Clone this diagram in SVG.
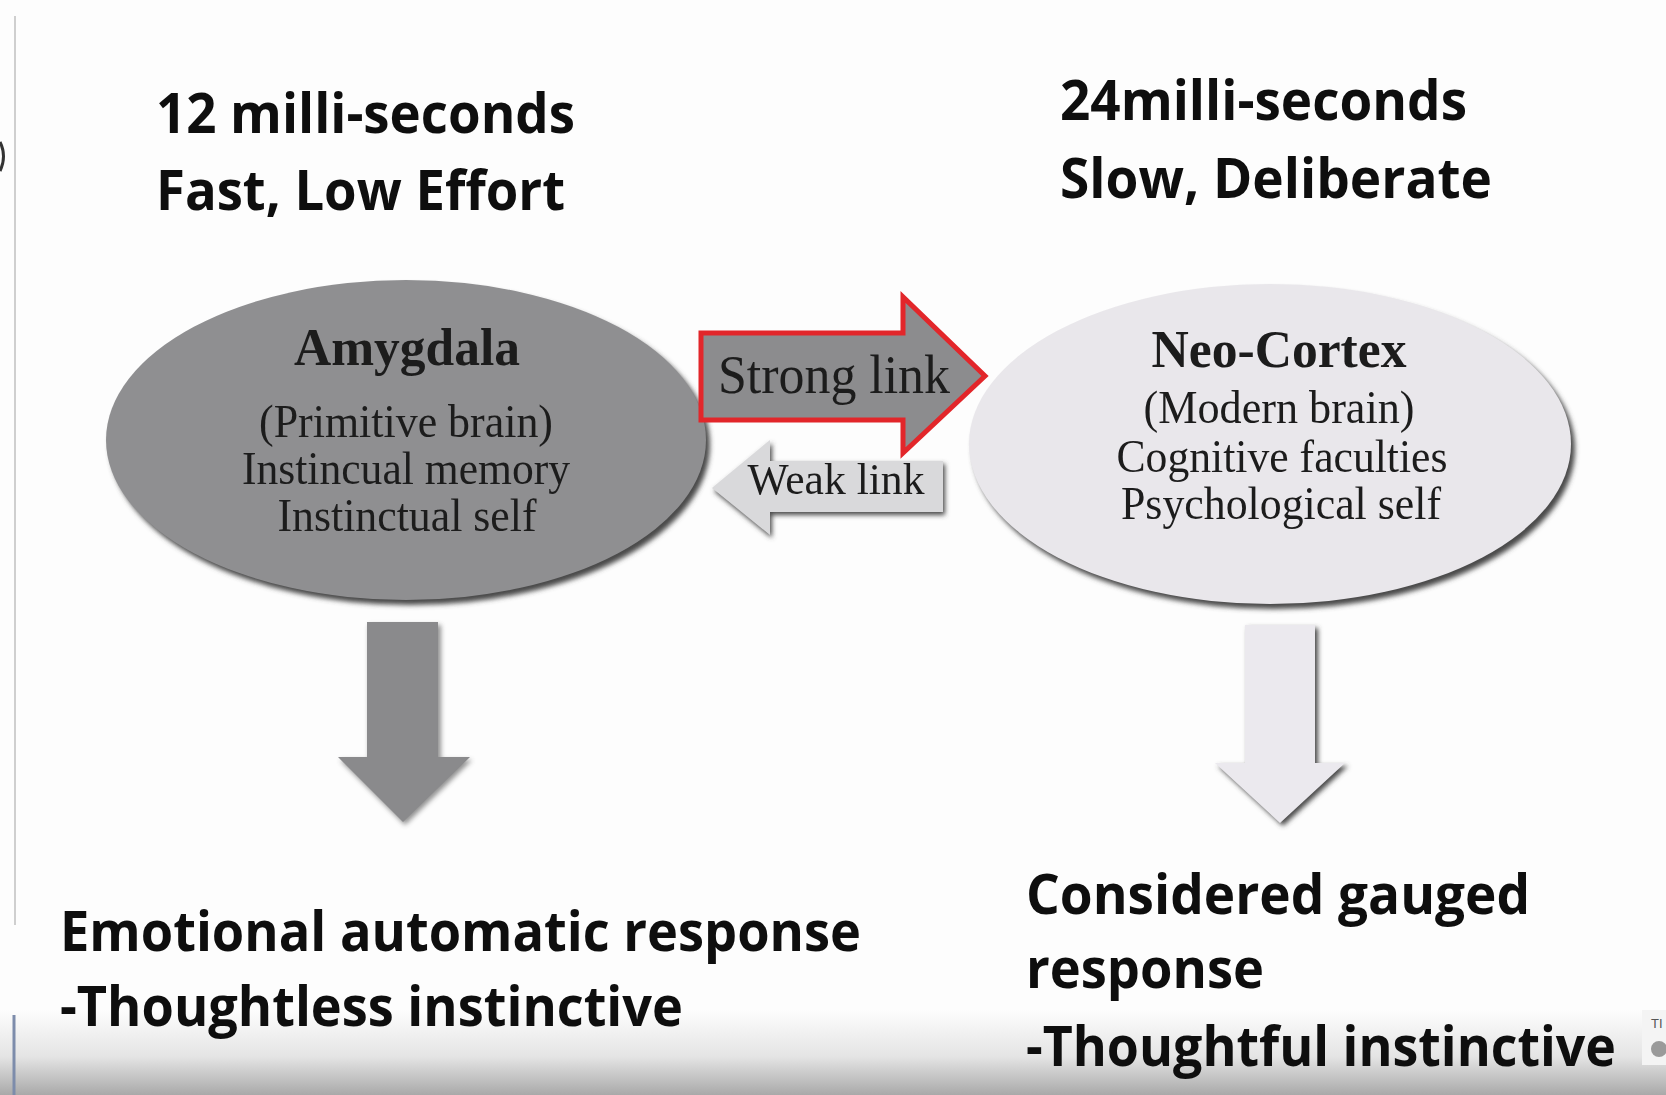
<svg xmlns="http://www.w3.org/2000/svg" width="1666" height="1095" viewBox="0 0 1666 1095">
<defs>
  <linearGradient id="bottomFade" x1="0" y1="0" x2="0" y2="1">
    <stop offset="0" stop-color="#fdfdfd"/>
    <stop offset="0.55" stop-color="#e4e4e4"/>
    <stop offset="1" stop-color="#a9a9a9"/>
  </linearGradient>
  <filter id="blur" x="-10%" y="-10%" width="120%" height="120%">
    <feGaussianBlur stdDeviation="2.5"/>
  </filter>
  <filter id="soft" x="-5%" y="-5%" width="110%" height="110%">
    <feGaussianBlur stdDeviation="0.6"/>
  </filter>
</defs>
<style>
  .head { font-family: "Open Sans", "Liberation Sans", sans-serif; font-weight: 700; font-size: 55px; fill: #0e0e0e; }
  .ser { font-family: "Liberation Serif", "DejaVu Serif", serif; fill: #1c1c1c; text-anchor: middle; }
  .title { font-weight: 700; font-size: 52px; }
  .sub { font-size: 46px; }
  .shadow { fill: #4a4a4a; filter: url(#blur); }
</style>
<rect x="0" y="0" width="1666" height="1095" fill="#fdfdfd"/>
<rect x="0" y="1010" width="1666" height="85" fill="url(#bottomFade)"/>
<line x1="15" y1="16" x2="15" y2="925" stroke="#cfcfcf" stroke-width="2"/>
<line x1="14" y1="1015" x2="14" y2="1095" stroke="#7d8cab" stroke-width="3"/>
<path d="M0,142 Q7,156 0,171" fill="none" stroke="#333" stroke-width="3"/>

<g id="label-left-top">
  <text class="head" x="156" y="133" textLength="419" lengthAdjust="spacingAndGlyphs">12 milli-seconds</text>
  <text class="head" x="156" y="210" textLength="409" lengthAdjust="spacingAndGlyphs">Fast, Low Effort</text>
</g>
<g id="label-right-top">
  <text class="head" x="1060" y="120" textLength="407" lengthAdjust="spacingAndGlyphs">24milli-seconds</text>
  <text class="head" x="1060" y="198" textLength="432" lengthAdjust="spacingAndGlyphs">Slow, Deliberate</text>
</g>

<g id="amygdala">
  <ellipse class="shadow" cx="410" cy="445" rx="300" ry="160"/>
  <ellipse cx="406" cy="440" rx="300" ry="160" fill="#8f8f91"/>
  <g filter="url(#soft)">
    <text class="ser title" x="407" y="365" textLength="226" lengthAdjust="spacingAndGlyphs">Amygdala</text>
    <text class="ser sub" x="406" y="437" textLength="294" lengthAdjust="spacingAndGlyphs">(Primitive brain)</text>
    <text class="ser sub" x="406" y="484" textLength="328" lengthAdjust="spacingAndGlyphs">Instincual memory</text>
    <text class="ser sub" x="407" y="531" textLength="259" lengthAdjust="spacingAndGlyphs">Instinctual self</text>
  </g>
</g>

<g id="neocortex">
  <ellipse class="shadow" cx="1274" cy="449" rx="301" ry="160"/>
  <ellipse cx="1270" cy="444" rx="301" ry="160" fill="#e9e7eb"/>
  <g filter="url(#soft)">
    <text class="ser title" x="1279" y="367" textLength="255" lengthAdjust="spacingAndGlyphs">Neo-Cortex</text>
    <text class="ser sub" x="1279" y="423" textLength="271" lengthAdjust="spacingAndGlyphs">(Modern brain)</text>
    <text class="ser sub" x="1282" y="472" textLength="331" lengthAdjust="spacingAndGlyphs">Cognitive faculties</text>
    <text class="ser sub" x="1281" y="519" textLength="320" lengthAdjust="spacingAndGlyphs">Psychological self</text>
  </g>
</g>

<g id="connectors">
  <g id="strong-link">
    <path d="M701,333 L903,333 L903,297 L985,376 L903,453 L903,420 L701,420 Z" fill="#8c8c8e" stroke="#e2262a" stroke-width="5" stroke-linejoin="miter"/>
    <text class="ser" x="834" y="393" font-size="54" textLength="232" lengthAdjust="spacingAndGlyphs" filter="url(#soft)">Strong link</text>
  </g>
  <g id="weak-link">
    <path class="shadow" d="M714,491 L772,443 L772,464 L945,464 L945,515 L772,515 L772,538 Z"/>
    <path d="M712,488 L770,440 L770,461 L943,461 L943,512 L770,512 L770,535 Z" fill="#d9d9db"/>
    <text class="ser" x="836" y="494" font-size="44" textLength="177" lengthAdjust="spacingAndGlyphs" filter="url(#soft)">Weak link</text>
  </g>
  <g id="down-left">
    <path class="shadow" d="M369,625 L441,625 L441,760 L472,760 L405,825 L340,760 L369,760 Z" opacity="0.6"/>
    <path d="M367,622 L438,622 L438,757 L470,757 L403,822 L338,757 L367,757 Z" fill="#8a8a8c"/>
  </g>
  <g id="down-right">
    <path class="shadow" d="M1248,628 L1318,628 L1318,766 L1348,766 L1283,826 L1218,766 L1248,766 Z"/>
    <path d="M1245,625 L1315,625 L1315,763 L1345,763 L1280,823 L1215,763 L1245,763 Z" fill="#ebe9ee"/>
  </g>
</g>

<g id="label-left-bottom">
  <text class="head" x="60" y="951" textLength="801" lengthAdjust="spacingAndGlyphs">Emotional automatic response</text>
  <text class="head" x="60" y="1026" textLength="623" lengthAdjust="spacingAndGlyphs">-Thoughtless instinctive</text>
</g>
<g id="label-right-bottom">
  <text class="head" x="1026" y="914" textLength="504" lengthAdjust="spacingAndGlyphs">Considered gauged</text>
  <text class="head" x="1026" y="988" textLength="238" lengthAdjust="spacingAndGlyphs">response</text>
  <text class="head" x="1026" y="1066" textLength="590" lengthAdjust="spacingAndGlyphs">-Thoughtful instinctive</text>
</g>

<g id="logo">
  <rect x="1642" y="1010" width="24" height="55" fill="#f4f4f4"/>
  <text x="1651" y="1028" font-family="Liberation Sans, sans-serif" font-size="13" fill="#555">TI</text>
  <circle cx="1659" cy="1049" r="8" fill="#9a9a9a"/>
</g>
</svg>
